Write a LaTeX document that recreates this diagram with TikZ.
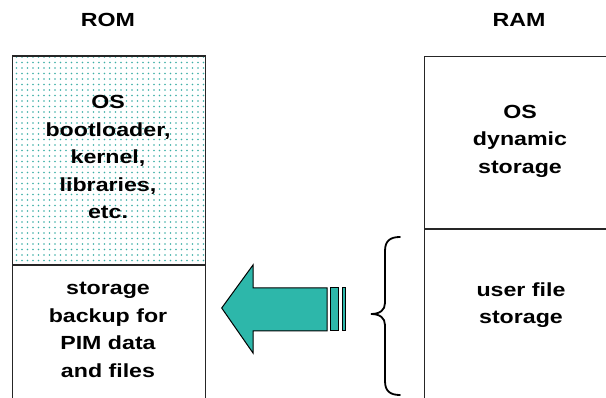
\documentclass[tikz,border=0pt]{standalone}
\usepackage{fontspec}
\setmainfont{Liberation Sans}[FakeStretch=1.22]
\usetikzlibrary{patterns.meta}
\definecolor{arrowteal}{RGB}{45,183,170}
\definecolor{dotteal}{RGB}{60,175,165}
\begin{document}
\begin{tikzpicture}[x=1pt,y=-1pt]

\tikzstyle{cell}=[rectangle,draw=black!85,line width=1.3pt,inner sep=0pt]
\tikzstyle{txt}=[align=center,inner sep=0pt,font=\fontsize{19}{27.5}\selectfont\bfseries]
\tikzstyle{flow}=[draw=black,line width=1pt,fill=arrowteal]

\useasboundingbox (0,0) rectangle (606,398);
\clip (0,0) rectangle (606,398);

% ROM side
\node[cell,minimum width=193pt,minimum height=209pt,
      pattern={Dots[distance=5.5pt,radius=0.95pt]},pattern color=dotteal] (romos) at (109.2,160.5) {};
\node[cell,minimum width=193pt,minimum height=155pt] (romback) at (109.2,342.5) {};
\node[txt,anchor=base] (romlbl) at (108,27) {ROM};
\node[txt] (romostxt) at (108,157) {OS\\bootloader,\\kernel,\\libraries,\\etc.};
\node[txt] (rombacktxt) at (108,330) {storage\\backup for\\PIM data\\and files};

% RAM side
\node[cell,minimum width=195.3pt,minimum height=172.3pt] (ramos) at (522.35,142.85) {};
\node[cell,minimum width=195.3pt,minimum height=191pt] (ramuser) at (522.35,324.5) {};
\node[txt,anchor=base] (ramlbl) at (519,27) {RAM};
\node[txt] (ramostxt) at (520,141) {OS\\dynamic\\storage};
\node[txt] (ramusertxt) at (521,305) {user file\\storage};

% backup arrow
\draw[flow] (221.7,308) -- (253,265) -- (253,288) -- (327,288) -- (327,331)
  -- (253,331) -- (253,353) -- cycle;
\draw[flow] (330.7,288) rectangle (338.3,331);
\draw[flow] (342.7,288) rectangle (345.7,331);

% brace
\coordinate (btop) at (400,237);
\coordinate (btip) at (371,314);
\coordinate (bbot) at (400,395);
\draw[line width=1.8pt,line cap=round] (btop) .. controls (390,237) and (385,241) .. (385,251)
  -- (385,303) .. controls (385,310) and (380,314) .. (btip)
  .. controls (380,314) and (385,318) .. (385,325)
  -- (385,381) .. controls (385,391) and (390,395) .. (bbot);

\end{tikzpicture}
\end{document}
